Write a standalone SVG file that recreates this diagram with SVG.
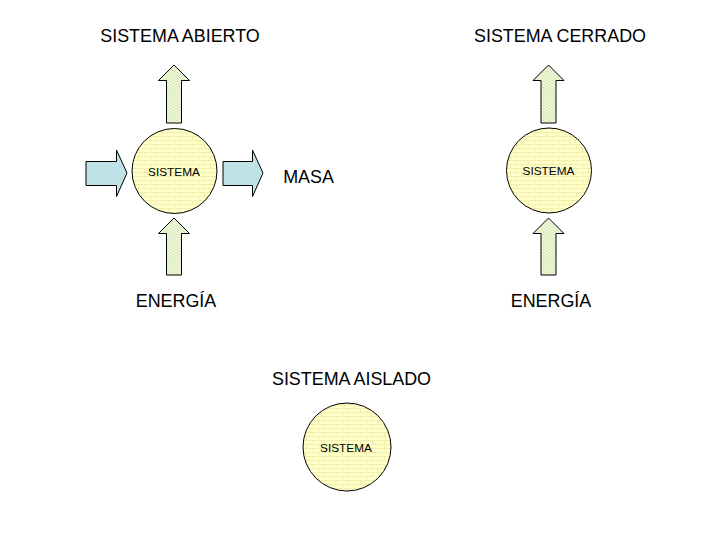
<svg xmlns="http://www.w3.org/2000/svg" width="720" height="540" viewBox="0 0 720 540">
<style>
.t{font-family:"Liberation Sans",Arial,sans-serif;fill:#000}
.big{font-size:17.9px}
.small{font-size:11.8px}
.circ{fill:url(#brick);stroke:#000;stroke-width:1}
.up{fill:url(#weave);stroke:#000;stroke-width:1}
.side{fill:#BFE2E6;stroke:#000;stroke-width:1}
</style>
<defs>
<pattern id="brick" width="12" height="8" patternUnits="userSpaceOnUse">
<rect width="12" height="8" fill="#FFFFC8"/>
<path d="M0 0.5H12M0 4.5H12M0.5 0.5V4.5M6.5 4.5V8" stroke="#F3EDB0" stroke-width="1" fill="none"/>
</pattern>
<pattern id="weave" width="6" height="6" patternUnits="userSpaceOnUse">
<rect width="6" height="6" fill="#EEF6DA"/>
<path d="M0 6L3 3L6 6M0 3L3 0L6 3" stroke="#D5E8B6" stroke-width="1" fill="none"/>
</pattern>
</defs>
<rect width="720" height="540" fill="#fff"/>

<g id="connectors">
<polygon class="up" points="174,65 189.5,80.5 181.5,80.5 181.5,123 166.5,123 166.5,80.5 158.5,80.5"/>
<polygon class="up" points="174,218 189.5,233.5 181.5,233.5 181.5,275 166.5,275 166.5,233.5 158.5,233.5"/>
<polygon class="side" points="86,161.5 116.5,161.5 116.5,150 127,173 116.5,196.5 116.5,185.5 86,185.5"/>
<polygon class="side" points="223,161.5 252.5,161.5 252.5,150 263,173 252.5,196.5 252.5,185.5 223,185.5"/>
<polygon class="up" points="548.5,65 564,80.5 556,80.5 556,123 541,123 541,80.5 533,80.5"/>
<polygon class="up" points="548.5,218 564,233.5 556,233.5 556,275 541,275 541,233.5 533,233.5"/>
</g>

<g id="sistema-abierto">
<circle class="circ" cx="174.5" cy="171" r="42.5"/>
<text class="t small" x="174" y="175.5" text-anchor="middle">SISTEMA</text>
</g>
<g id="sistema-cerrado">
<circle class="circ" cx="549" cy="170.5" r="42.5"/>
<text class="t small" x="548.5" y="175" text-anchor="middle">SISTEMA</text>
</g>
<g id="sistema-aislado">
<circle class="circ" cx="347" cy="447" r="44"/>
<text class="t small" x="346" y="452" text-anchor="middle">SISTEMA</text>
</g>

<g id="labels">
<text class="t big" x="180" y="42" text-anchor="middle">SISTEMA ABIERTO</text>
<text class="t big" x="560" y="42" text-anchor="middle">SISTEMA CERRADO</text>
<text class="t big" x="308.5" y="183" text-anchor="middle">MASA</text>
<text class="t big" x="176" y="307" text-anchor="middle">ENERGÍA</text>
<text class="t big" x="551" y="307" text-anchor="middle">ENERGÍA</text>
<text class="t big" x="351.5" y="385" text-anchor="middle">SISTEMA AISLADO</text>
</g>
</svg>
